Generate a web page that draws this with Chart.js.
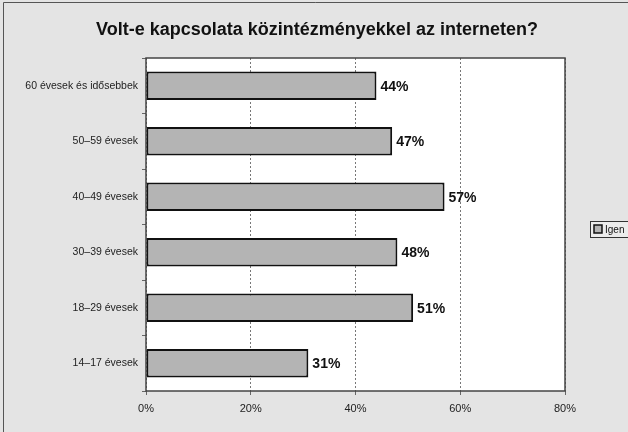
<!DOCTYPE html>
<html lang="hu">
<head>
  <meta charset="UTF-8">
  <title>Volt-e kapcsolata közintézményekkel az interneten?</title>
  <script src="https://cdn.jsdelivr.net/npm/chart.js"></script>
  <style>
    html, body { margin: 0; padding: 0; background: #e4e4e4; overflow: hidden; }
    #wrap { width: 628px; height: 432px; position: relative; }
  </style>
</head>
<body>
  <div id="wrap"><canvas id="chart" width="628" height="432"></canvas></div>

  <script>
    // adatok
    const chartTitle = 'Volt-e kapcsolata közintézményekkel az interneten?';
    const categories = ['60 évesek és idősebbek', '50–59 évesek', '40–49 évesek', '30–39 évesek', '18–29 évesek', '14–17 évesek'];
    const igenValues = [44, 47, 57, 48, 51, 31];
    const xTicks = [0, 20, 40, 60, 80];
    const seriesLabel = 'Igen';

    const barFill = '#b4b4b4';
    const fontFam = 'Arial, "Liberation Sans", sans-serif';

    // háttér, keret és cím (a teljes szélességre középre igazítva)
    const frame = {
      id: 'frame',
      beforeDraw(chart) {
        const { ctx, chartArea: a, width, height } = chart;
        ctx.save();
        ctx.fillStyle = '#e4e4e4';
        ctx.fillRect(0, 0, width, height);
        ctx.strokeStyle = '#555';
        ctx.lineWidth = 1;
        ctx.beginPath();
        ctx.moveTo(3.5, height);
        ctx.lineTo(3.5, 2.5);
        ctx.lineTo(width, 2.5);
        ctx.stroke();
        ctx.fillStyle = '#ffffff';
        ctx.fillRect(a.left, a.top, a.right - a.left, a.bottom - a.top);

        ctx.fillStyle = '#111';
        ctx.font = 'bold 18px ' + fontFam;
        ctx.textAlign = 'center';
        ctx.textBaseline = 'middle';
        ctx.fillText(chartTitle, width / 2 + 3, 30);
        ctx.restore();
      },
      afterDraw(chart) {
        const { ctx, chartArea: a } = chart;
        ctx.save();
        ctx.strokeStyle = '#444';
        ctx.lineWidth = 1.5;
        ctx.strokeRect(a.left, a.top, a.right - a.left, a.bottom - a.top);
        ctx.restore();
      }
    };

    // százalék feliratok a sávok végén
    const barLabels = {
      id: 'barLabels',
      afterDatasetsDraw(chart) {
        const { ctx } = chart;
        const meta = chart.getDatasetMeta(0);
        ctx.save();
        ctx.font = 'bold 14px ' + fontFam;
        ctx.fillStyle = '#111';
        ctx.textAlign = 'left';
        ctx.textBaseline = 'middle';
        meta.data.forEach((bar, i) => {
          ctx.fillText(igenValues[i] + '%', bar.x + 4, bar.y + 1);
        });
        ctx.restore();
      }
    };

    // jelmagyarázat (jobb szélen, kilóg a képből)
    const sideLegend = {
      id: 'sideLegend',
      afterDraw(chart) {
        const { ctx } = chart;
        const x = 590, y = 221, h = 16;
        ctx.save();
        ctx.fillStyle = '#ececec';
        ctx.fillRect(x, y, 60, h);
        ctx.strokeStyle = '#333';
        ctx.lineWidth = 1;
        ctx.strokeRect(x + 0.5, y + 0.5, 60, h);
        ctx.fillStyle = barFill;
        ctx.fillRect(x + 4, y + 4, 8, 8);
        ctx.strokeStyle = '#111';
        ctx.lineWidth = 1.5;
        ctx.strokeRect(x + 4, y + 4, 8, 8);
        ctx.fillStyle = '#111';
        ctx.font = '10px ' + fontFam;
        ctx.textBaseline = 'middle';
        ctx.fillText(chart.data.datasets[0].label, x + 15, y + h / 2 + 1);
        ctx.restore();
      }
    };

    new Chart(document.getElementById('chart'), {
      type: 'bar',
      data: {
        labels: categories,
        datasets: [{
          label: seriesLabel,
          data: igenValues,
          backgroundColor: barFill,
          borderColor: '#111',
          borderWidth: 2,
          borderSkipped: false,
          barPercentage: 0.51,
          categoryPercentage: 1
        }]
      },
      options: {
        indexAxis: 'y',
        responsive: false,
        animation: false,
        layout: { padding: { left: 6, right: 63, top: 58, bottom: 0 } },
        plugins: {
          legend: { display: false },
          tooltip: { enabled: false },
          title: { display: false }
        },
        scales: {
          x: {
            min: 0,
            max: 80,
            afterBuildTicks: s => { s.ticks = xTicks.map(v => ({ value: v })); },
            afterFit: s => { s.height = 41; },
            border: { display: false, dash: [2, 2] },
            grid: {
              color: '#777',
              tickColor: '#666',
              tickLength: 4,
              drawOnChartArea: true
            },
            ticks: {
              callback: v => v + '%',
              color: '#222',
              padding: 7,
              maxRotation: 0,
              font: { family: fontFam, size: 11 }
            }
          },
          y: {
            afterFit: s => { s.width = 140; },
            border: { display: false },
            grid: {
              offset: true,
              drawOnChartArea: false,
              tickColor: '#666',
              tickLength: 4
            },
            ticks: {
              color: '#222',
              padding: 4,
              font: { family: fontFam, size: 10.5 }
            }
          }
        }
      },
      plugins: [frame, barLabels, sideLegend]
    });
  </script>
</body>
</html>
